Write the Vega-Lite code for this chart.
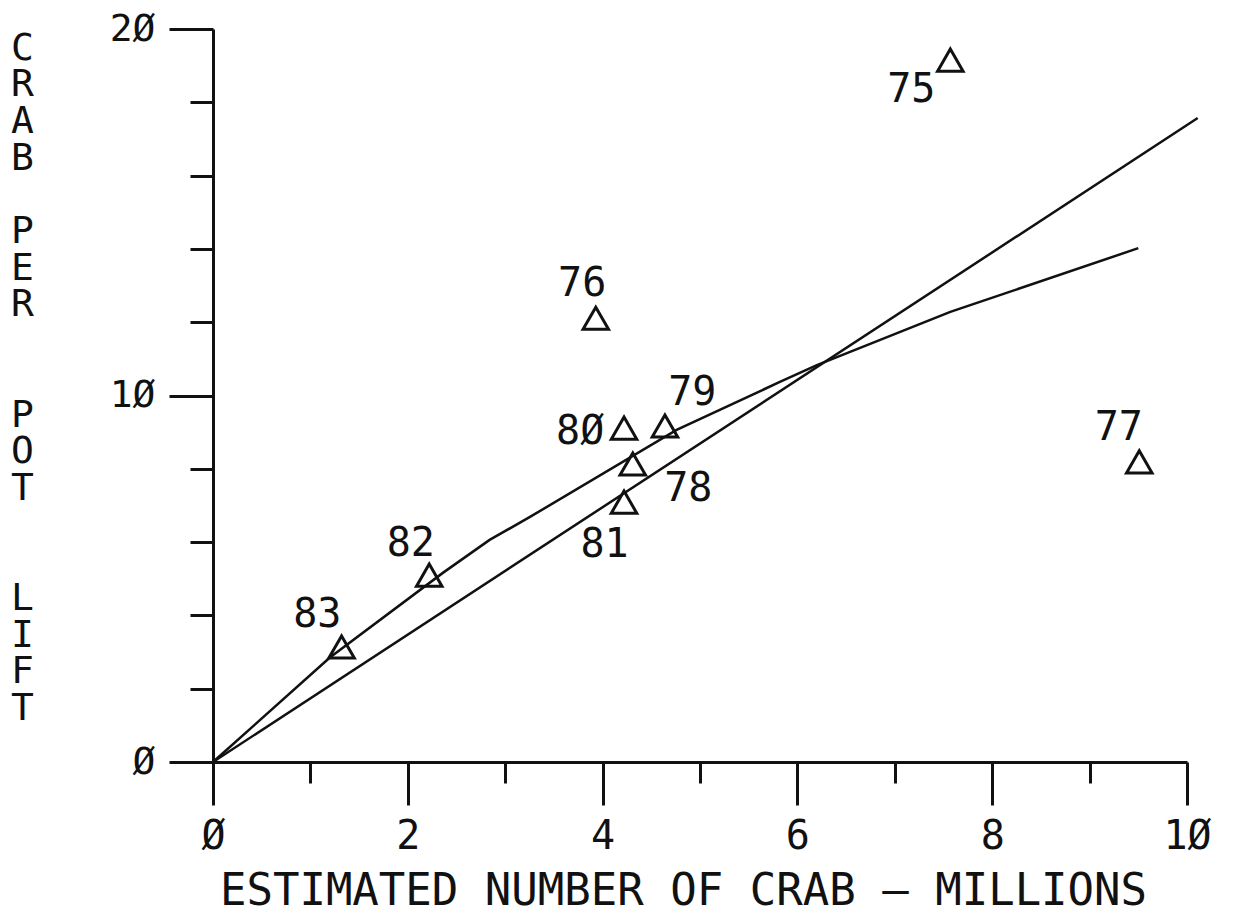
{
  "$schema": "https://vega.github.io/schema/vega-lite/v6.json",
  "width": 974,
  "height": 733,
  "autosize": "none",
  "padding": {"left": 213, "top": 29, "right": 52, "bottom": 152},
  "background": "white",
  "config": {"view": {"stroke": null}, "font": "DejaVu Sans Mono"},
  "datasets": {
    "lines": [
      {"series": "linear", "x": 0, "y": 0},
      {"series": "linear", "x": 10.11, "y": 17.57},
      {"series": "curve", "x": 0, "y": 0},
      {"series": "curve", "x": 1.2, "y": 2.85},
      {"series": "curve", "x": 2.36, "y": 5.16},
      {"series": "curve", "x": 2.84, "y": 6.06},
      {"series": "curve", "x": 3.25, "y": 6.68},
      {"series": "curve", "x": 4.76, "y": 9.06},
      {"series": "curve", "x": 5.82, "y": 10.37},
      {"series": "curve", "x": 6.2, "y": 10.83},
      {"series": "curve", "x": 7.57, "y": 12.28},
      {"series": "curve", "x": 9.5, "y": 14.02}
    ],
    "points": [
      {"year": "75", "x": 7.57, "y": 19.15, "lx": 7.17, "ly": 18.34},
      {"year": "76", "x": 3.93, "y": 12.11, "lx": 3.79, "ly": 13.04},
      {"year": "77", "x": 9.51, "y": 8.19, "lx": 9.3, "ly": 9.11},
      {"year": "78", "x": 4.31, "y": 8.13, "lx": 4.88, "ly": 7.45},
      {"year": "79", "x": 4.64, "y": 9.17, "lx": 4.92, "ly": 10.07},
      {"year": "8Ø", "x": 4.22, "y": 9.11, "lx": 3.77, "ly": 9.0},
      {"year": "81", "x": 4.22, "y": 7.09, "lx": 4.02, "ly": 5.92},
      {"year": "82", "x": 2.22, "y": 5.1, "lx": 2.03, "ly": 5.95},
      {"year": "83", "x": 1.32, "y": 3.14, "lx": 1.07, "ly": 4.01}
    ]
  },
  "layer": [
    {
      "data": {"name": "lines"},
      "mark": {"type": "line", "color": "#111", "strokeWidth": 2.5},
      "encoding": {
        "x": {
          "field": "x", "type": "quantitative",
          "scale": {"domain": [0, 10], "nice": false, "zero": true},
          "axis": {
            "title": "ESTIMATED NUMBER OF CRAB – MILLIONS",
            "values": [0, 1, 2, 3, 4, 5, 6, 7, 8, 9, 10],
            "format": "d",
            "grid": false,
            "domainColor": "#111", "domainWidth": 3,
            "tickColor": "#111", "tickWidth": 3,
            "tickSize": {"condition": {"test": "datum.value % 2 === 0", "value": 43}, "value": 21},
            "labelExpr": "datum.value === 0 ? 'Ø' : datum.value === 10 ? '1Ø' : (datum.value % 2 === 0 ? '' + datum.value : '')",
            "labelFont": "DejaVu Sans Mono", "labelFontSize": 40, "labelColor": "#111",
            "labelBaseline": "top", "labelPadding": 11, "labelFlush": false, "labelOverlap": false,
            "titleFont": "DejaVu Sans Mono", "titleFontSize": 44, "titleFontWeight": "normal", "titleColor": "#111",
            "titleX": 470, "titleY": 142, "titleAlign": "center", "titleBaseline": "alphabetic"
          }
        },
        "y": {
          "field": "y", "type": "quantitative",
          "scale": {"domain": [0, 20], "nice": false, "zero": true},
          "axis": {
            "title": ["C", "R", "A", "B", "\u2800", "P", "E", "R", "\u2800", "\u2800", "P", "O", "T", "\u2800", "\u2800", "L", "I", "F", "T"],
            "values": [0, 2, 4, 6, 8, 10, 12, 14, 16, 18, 20],
            "format": "d",
            "grid": false,
            "domainColor": "#111", "domainWidth": 3,
            "tickColor": "#111", "tickWidth": 3,
            "tickSize": {"condition": {"test": "datum.value % 10 === 0", "value": 44}, "value": 23},
            "labelExpr": "datum.value === 0 ? 'Ø' : datum.value === 10 ? '1Ø' : datum.value === 20 ? '2Ø' : ''",
            "labelFont": "DejaVu Sans Mono", "labelFontSize": 38, "labelColor": "#111",
            "labelBaseline": "middle", "labelPadding": 14, "labelOverlap": false, "labelFlush": false,
            "titleFont": "DejaVu Sans Mono", "titleFontSize": 38, "titleFontWeight": "normal", "titleColor": "#111",
            "titleAngle": 0, "titleX": -191, "titleY": 0, "titleAlign": "center", "titleBaseline": "top",
            "titleLineHeight": 36.7
          }
        },
        "detail": {"field": "series", "type": "nominal"}
      }
    },
    {
      "data": {"name": "points"},
      "mark": {"type": "point", "shape": "triangle-up", "filled": false, "size": 650, "strokeWidth": 3, "color": "#111", "opacity": 1},
      "encoding": {
        "x": {"field": "x", "type": "quantitative"},
        "y": {"field": "y", "type": "quantitative"}
      }
    },
    {
      "data": {"name": "points"},
      "mark": {"type": "text", "font": "DejaVu Sans Mono", "fontSize": 40, "align": "center", "baseline": "middle", "color": "#111"},
      "encoding": {
        "x": {"field": "lx", "type": "quantitative"},
        "y": {"field": "ly", "type": "quantitative"},
        "text": {"field": "year", "type": "nominal"}
      }
    }
  ]
}
